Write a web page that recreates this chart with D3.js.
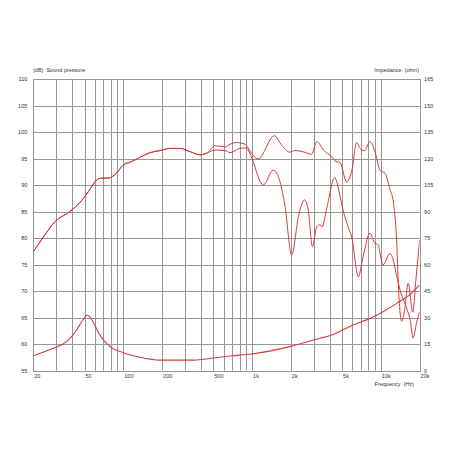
<!DOCTYPE html>
<html><head><meta charset="utf-8">
<script src="https://cdn.jsdelivr.net/npm/d3@7"></script>
<style>html,body{margin:0;padding:0;background:#fff;}svg{display:block;font-family:"Liberation Sans",Arial,sans-serif;}</style>
</head><body>
<svg id="chart" width="452" height="452"></svg>
<script>
// ---- data ----
const freqOn = [20,24,29.5,38.5,46,53.4,62,68,76.5,89,100,113,134,161,193,230,275,329,394,444,514,616,674,759,882,988,1112,1490,1700,1964,2152,2360,2550,2900,3180,3590,4160,4500,4830,5420,5960,6480,7080,7500,8220,9000,9860,10800,11800,12500,13300,13700,14500,15300,16300,17700,18700,20000];
const splOn  = [77.4,80.2,83.1,85.0,86.7,88.7,90.9,91.3,91.3,92.3,93.8,94.3,95.2,96.1,96.5,96.9,96.9,96.3,95.7,96.0,97.4,97.2,97.7,98.0,97.7,96.0,94.9,99.3,97.5,96.2,96.5,96.4,96.2,95.8,98.2,96.6,95.3,94.4,94.2,90.6,92.8,98.0,96.6,96.5,98.2,96.3,92.8,92.2,89.1,86.8,79.0,71.0,64.3,66.5,71.5,66.0,72.0,79.6];

const freqOff = [20,24,29.5,38.5,46,53.4,62,68,76.5,89,100,113,134,161,193,230,275,329,394,444,514,616,674,804,900,960,1222,1460,1648,1804,2030,2290,2550,2730,2940,3180,3360,3500,3780,4380,4830,5080,5580,5960,6680,7280,8220,9000,9560,9860,10400,11800,12500,13300,14100,16000,16900,17800,18900,20000];
const splOff  = [77.4,80.2,83.1,85.0,86.7,88.7,90.9,91.3,91.3,92.3,93.8,94.3,95.2,96.1,96.5,96.9,96.9,96.3,95.7,96.0,96.6,96.5,96.1,96.9,97.0,96.0,90.0,92.8,90.6,85.9,76.8,84.0,87.2,85.3,78.4,82.1,82.5,82.1,85.3,91.4,87.8,85.3,82.1,80.0,72.7,76.5,80.9,79.0,78.7,77.1,74.9,77.1,75.8,72.7,70.2,66.5,64.5,61.1,63.9,66.1];

const freqImp = [20,28.6,36.3,43.4,49,52.6,57,65.8,78.9,100,135,193,350,562,674,988,1964,2990,4160,6100,8220,10400,13300,17300,20000];
const ohmImp  = [8.4,12.6,16.3,22.9,29.0,31.4,28.6,20.1,13.5,10.1,7.5,5.9,5.9,7.5,8.2,9.3,13.5,17.3,20.1,25.8,29.5,33.3,38.0,43.7,48.4];

const xTickValues = [20,50,100,200,500,1000,2000,5000,10000,20000];
const xTickLabels = ["20","50","100","200","500","1k","2k","5k","10k","20k"];
const xGridValues = [20,30,40,50,60,70,80,90,100,200,300,400,500,600,700,800,900,1000,2000,3000,4000,5000,6000,7000,8000,9000,10000,20000];
const dbTicks  = [55,60,65,70,75,80,85,90,95,100,105,110];
const ohmTicks = [0,15,30,45,60,75,90,105,120,135,150,165];

// ---- layout ----
const L = 33.3, R = 419.6, T = 79, B = 370.5;
const FS = 5.5;
const svg = d3.select("#chart");
const x = d3.scaleLog().domain([20,20000]).range([L,R]);
const y = d3.scaleLinear().domain([55,110]).range([B,T]);
const yI = d3.scaleLinear().domain([0,165]).range([B,T]);

const gridColor = "#969696";
const textColor = "#333";
const g = svg.append("g");

g.selectAll("line.vg").data(xGridValues).enter().append("line")
  .attr("x1", d=>Math.round(x(d))+0.5).attr("x2", d=>Math.round(x(d))+0.5)
  .attr("y1", T).attr("y2", B).attr("stroke", gridColor).attr("stroke-width",1);
g.selectAll("line.hg").data(dbTicks).enter().append("line")
  .attr("x1", L).attr("x2", R)
  .attr("y1", d=>Math.round(y(d))+0.5).attr("y2", d=>Math.round(y(d))+0.5)
  .attr("stroke", gridColor).attr("stroke-width",1);
g.append("rect").attr("x", Math.round(L)+0.5).attr("y", T+0.5)
  .attr("width", Math.round(R)-Math.round(L)).attr("height", Math.round(B)-T)
  .attr("fill","none").attr("stroke", gridColor);

const axL = d3.axisLeft(y).tickValues(dbTicks).tickSize(0).tickPadding(6);
const axR = d3.axisRight(yI).tickValues(ohmTicks).tickSize(0).tickPadding(4.5);
const axB = d3.axisBottom(x).tickValues(xTickValues).tickSize(0).tickPadding(4)
  .tickFormat((d,i)=>xTickLabels[i]);
function styleAxis(sel){
  sel.select(".domain").remove();
  sel.selectAll("text").attr("font-size",FS).attr("fill",textColor)
     .attr("font-family",'"Liberation Sans",Arial,sans-serif');
}
svg.append("g").attr("transform",`translate(${L},0)`).call(axL).call(styleAxis);
svg.append("g").attr("transform",`translate(${R},0)`).call(axR).call(styleAxis);
svg.append("g").attr("transform",`translate(0,${B})`).call(axB).call(styleAxis)
  .selectAll("text").attr("text-anchor","start").attr("dx", 0.5);

svg.append("text").attr("x", 33).attr("y", 72).attr("font-size",FS).attr("fill",textColor)
  .text("(dB)\u00a0\u00a0Sound pressure");
svg.append("text").attr("x", 419).attr("y", 72).attr("font-size",FS).attr("fill",textColor)
  .attr("text-anchor","end").text("Impedance\u00a0\u00a0(ohm)");
svg.append("text").attr("x", 414).attr("y", 385.5).attr("font-size",FS).attr("fill",textColor)
  .attr("text-anchor","end").text("Frequency\u00a0\u00a0(Hz)");

const red = "#d23c3c";
const lineDb = d3.line().x(d=>x(d[0])).y(d=>y(d[1])).curve(d3.curveMonotoneX);
const lineOhm = d3.line().x(d=>x(d[0])).y(d=>yI(d[1])).curve(d3.curveMonotoneX);
svg.append("clipPath").attr("id","clip").append("rect")
  .attr("x",L).attr("y",T).attr("width",R-L).attr("height",B-T);
const cg = svg.append("g").attr("clip-path","url(#clip)");
cg.append("path").datum(d3.zip(freqOff,splOff)).attr("d",lineDb)
  .attr("fill","none").attr("stroke",red).attr("stroke-width",1);
cg.append("path").datum(d3.zip(freqOn,splOn)).attr("d",lineDb)
  .attr("fill","none").attr("stroke",red).attr("stroke-width",1);
cg.append("path").datum(d3.zip(freqImp,ohmImp)).attr("d",lineOhm)
  .attr("fill","none").attr("stroke",red).attr("stroke-width",1.1);
</script>
</body></html>
